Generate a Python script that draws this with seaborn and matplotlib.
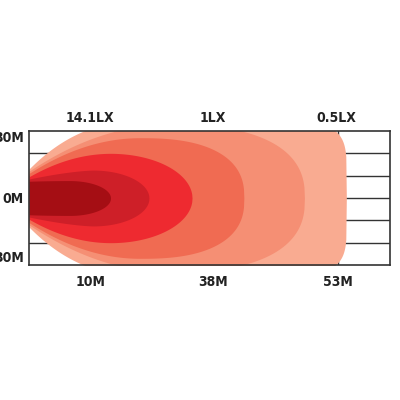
import numpy as np
import matplotlib
matplotlib.use('Agg')
import matplotlib.pyplot as plt
import seaborn as sns

# ========== Dati ==========

# beam layers, from the outermost (weakest) to the innermost (strongest)
layer_colors = ['#F9AB91', '#F58F74', '#F06B52', '#EE2A30', '#CE1F28', '#A50E14']
layer_reach = [54.5, 47.3, 36.9, 28.0, 20.6, 14.0]       # m, forward reach
layer_peak_x = [26, 24, 19, 14, 11, 7]                    # m, where the beam is widest
layer_half_width = [36, 33, 27, 20, 12.5, 7.8]            # m, max half width
layer_edge_width = [13, 12, 11, 9.5, 8.5, 7.5]            # m, half width at the lamp
layer_rise_power = [3, 2, 2, 2, 1.5, 2]                   # how fast the side opens
layer_cap_power = [6, 2.5, 2.5, 2, 2, 2]                  # roundness of the front cap

lux_pos = [10.5, 31.6, 52.8]
lux_labels = ['14.1LX', '1LX', '0.5LX']
dist_pos = [10.5, 31.6, 53]
dist_labels = ['10M', '38M', '53M']
side_pos = [30, 0, -30]
side_labels = ['30M', '0M', '30M']
grid_y = [-20, -10, 0, 10, 20]
grid_x = [53]

X_MAX = 62
Y_MAX = 30


def profilo(x, reach, peak, hw, edge, rise, cap):
    w = np.zeros_like(x)
    sx = x <= peak
    s = x[sx] / peak
    w[sx] = edge + (hw - edge) * (1 - (1 - s) ** rise)
    dx = (x > peak) & (x <= reach)
    t = np.clip((x[dx] - peak) / (reach - peak), 0, 1)
    w[dx] = hw * (1 - t ** cap) ** (1 / cap)
    return w


sns.set_theme(style='white')
plt.rcParams['font.family'] = ['DejaVu Sans']

fig = plt.figure(figsize=(4, 4), dpi=100)
ax = fig.add_axes([29 / 400, 135 / 400, 361 / 400, 134 / 400])

for y in grid_y:
    ax.axhline(y, color='#333333', lw=1, zorder=0)
for x in grid_x:
    ax.axvline(x, color='#333333', lw=1, zorder=0)

for col, r, p, hw, e, q, pw in zip(layer_colors, layer_reach, layer_peak_x, layer_half_width,
                                   layer_edge_width, layer_rise_power, layer_cap_power):
    xs = np.linspace(0, r, 600)
    w = profilo(xs, r, p, hw, e, q, pw)
    ax.fill_between(xs, -w, w, color=col, lw=0, zorder=2)

ax.set_xlim(0, X_MAX)
ax.set_ylim(-Y_MAX, Y_MAX)

for s in ax.spines.values():
    s.set_color('#333333')
    s.set_linewidth(1.2)
    s.set_zorder(5)

txt = dict(fontsize=10, fontweight='bold', fontstretch='condensed', color='#222222')
ax.set_xticks(dist_pos)
ax.set_xticklabels(dist_labels, **txt)
ax.set_yticks(side_pos)
ax.set_yticklabels(side_labels, **txt)
ax.tick_params(axis='x', length=0, pad=7)
ax.tick_params(axis='y', length=0, pad=4)
ylab = ax.get_yticklabels()
ylab[0].set_va('top')
ylab[2].set_va('bottom')

top = ax.secondary_xaxis('top')
top.set_xticks(lux_pos)
top.set_xticklabels(lux_labels, **txt)
top.tick_params(length=0, pad=4)
top.spines['top'].set_visible(False)

plt.savefig('out.png', dpi=100)
plt.close()
